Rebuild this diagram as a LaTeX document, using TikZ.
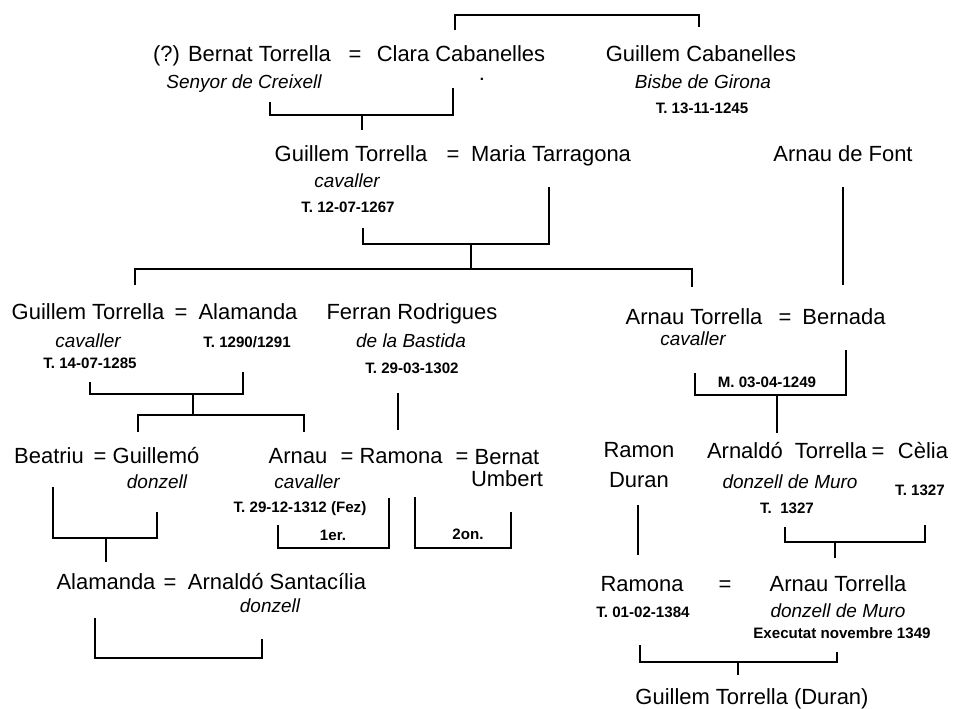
\documentclass[tikz,border=0pt]{standalone}
\usepackage{fontspec}
\setmainfont{Liberation Sans}
\tikzset{
  person/.style={font=\fontsize{12.5}{13}\selectfont, inner sep=0pt, anchor=mid, align=center},
  role/.style={font=\fontsize{10.8}{12}\selectfont\itshape, inner sep=0pt, anchor=mid},
  date/.style={font=\fontsize{8.6}{10}\selectfont\bfseries, inner sep=0pt, anchor=mid},
  link/.style={line width=0.9pt}
}
\begin{document}
\begin{tikzpicture}[x=0.02cm, y=-0.02cm]
    \useasboundingbox (0,0) rectangle (956,709);

    % Generation 1
    \node[person] (bt) at (242,57) {(?) Bernat Torrella};
    \node[person] (eq1) at (355,57) {=};
    \node[person] (cc) at (461,57) {Clara Cabanelles};
    \node[date] (dot) at (482,76) {.};
    \node[person] (gc) at (701,57) {Guillem Cabanelles};
    \node[role] (bt-t) at (244,84) {Senyor de Creixell};
    \node[role] (gc-t) at (703,84) {Bisbe de Girona};
    \node[date] (gc-d) at (702,109) {T. 13-11-1245};

    % Generation 2
    \node[person] (gt1) at (351,157) {Guillem Torrella};
    \node[person] (eq2) at (453,157) {=};
    \node[person] (mt) at (551,157) {Maria Tarragona};
    \node[person] (af) at (843,157) {Arnau de Font};
    \node[role] (gt1-t) at (347,183) {cavaller};
    \node[date] (gt1-d) at (348,208) {T. 12-07-1267};

    % Generation 3
    \node[person] (gt2) at (88,315) {Guillem Torrella};
    \node[person] (eq3) at (181,315) {=};
    \node[person] (al1) at (248,315) {Alamanda};
    \node[role] (gt2-t) at (88,343) {cavaller};
    \node[date] (al1-d) at (247,343) {T. 1290/1291};
    \node[date] (gt2-d) at (90,364) {T. 14-07-1285};
    \node[person] (fr) at (412,315) {Ferran Rodrigues};
    \node[role] (fr-t) at (411,343) {de la Bastida};
    \node[date] (fr-d) at (412,369) {T. 29-03-1302};
    \node[person] (at1) at (694,320) {Arnau Torrella};
    \node[person] (eq4) at (785,320) {=};
    \node[person] (bn) at (844,320) {Bernada};
    \node[role] (at1-t) at (693,341) {cavaller};
    \node[date] (bn-d) at (767,383) {M. 03-04-1249};

    % Generation 4
    \node[person] (be) at (49,459) {Beatriu};
    \node[person] (eq5) at (100,459) {=};
    \node[person] (gm) at (156,459) {Guillemó};
    \node[role] (gm-t) at (157,484) {donzell};
    \node[person] (ar) at (298,459) {Arnau};
    \node[person] (eq6) at (347,459) {=};
    \node[person] (ra1) at (401,459) {Ramona};
    \node[person] (eq7) at (462,459) {=};
    \node[person, anchor=center] (bu) at (507,468) {Bernat\\Umbert};
    \node[role] (ar-t) at (307,484) {cavaller};
    \node[date] (ar-d) at (300,508) {T. 29-12-1312 (Fez)};
    \node[date] (first) at (333,536) {1er.};
    \node[date] (second) at (468,535) {2on.};
    \node[person, anchor=center] (rd) at (639,465) {Ramon\\[4pt]Duran};
    \node[person] (ad) at (787,454) {Arnaldó\ \ Torrella};
    \node[person] (eq8) at (878,454) {=};
    \node[person] (ce) at (923,454) {Cèlia};
    \node[role] (ad-t) at (790,484) {donzell de Muro};
    \node[date] (ce-d) at (920,491) {T. 1327};
    \node[date] (ad-d) at (787,509) {T.\ \ 1327};

    % Generation 5
    \node[person] (al2) at (106,585) {Alamanda};
    \node[person] (eq9) at (170,585) {=};
    \node[person] (as) at (277,585) {Arnaldó Santacília};
    \node[role] (as-t) at (270,608) {donzell};
    \node[person] (ra2) at (642,587) {Ramona};
    \node[person] (eq10) at (725,587) {=};
    \node[person] (at2) at (838,587) {Arnau Torrella};
    \node[date] (ra2-d) at (643,613) {T. 01-02-1384};
    \node[role] (at2-t) at (838,613) {donzell de Muro};
    \node[date] (at2-d) at (842,634) {Executat novembre 1349};
    \node[person] (gtd) at (752,700) {Guillem Torrella (Duran)};

    % Clara and Guillem Cabanelles
    \coordinate (cg-l) at (455,30);
    \coordinate (cg-r) at (699,27);
    \draw[link] (cg-l) |- (cg-r |- 0,15) -- (cg-r);

    % Bernat = Clara
    \coordinate (bc-l) at (270,102);
    \coordinate (bc-r) at (453,88);
    \coordinate (bc-s) at (362,130);
    \draw[link] (bc-l) |- (bc-r |- 0,115) -- (bc-r);
    \draw[link] (bc-s) -- (bc-s |- 0,115);

    % Guillem = Maria
    \coordinate (gm-l) at (363,228);
    \coordinate (gm-r) at (549,187);
    \coordinate (gm-s) at (471,269);
    \draw[link] (gm-l) |- (gm-r |- 0,244) -- (gm-r);
    \draw[link] (gm-s) -- (gm-s |- 0,244);
    \coordinate (kids-l) at (135,285);
    \coordinate (kids-r) at (692,287);
    \draw[link] (kids-l) |- (kids-r |- 0,269) -- (kids-r);

    % Arnau de Font
    \coordinate (af-a) at (843,187);
    \coordinate (af-b) at (843,285);
    \draw[link] (af-a) -- (af-b);

    % Guillem = Alamanda
    \coordinate (ga-l) at (90,382);
    \coordinate (ga-r) at (243,372);
    \coordinate (ga-s) at (193,415);
    \draw[link] (ga-l) |- (ga-r |- 0,394) -- (ga-r);
    \draw[link] (ga-s) -- (ga-s |- 0,394);
    \coordinate (ga-kl) at (138,432);
    \coordinate (ga-kr) at (304,432);
    \draw[link] (ga-kl) |- (ga-kr |- 0,415) -- (ga-kr);

    % Ferran
    \coordinate (fr-a) at (398,393);
    \coordinate (fr-b) at (398,430);
    \draw[link] (fr-a) -- (fr-b);

    % Arnau = Bernada
    \coordinate (ab-l) at (695,373);
    \coordinate (ab-r) at (846,350);
    \coordinate (ab-s) at (777,433);
    \draw[link] (ab-l) |- (ab-r |- 0,395) -- (ab-r);
    \draw[link] (ab-s) -- (ab-s |- 0,395);

    % Beatriu = Guillemo
    \coordinate (bg-l) at (53,487);
    \coordinate (bg-r) at (157,512);
    \coordinate (bg-s) at (106,562);
    \draw[link] (bg-l) |- (bg-r |- 0,538) -- (bg-r);
    \draw[link] (bg-s) -- (bg-s |- 0,538);

    % Ramona, first and second marriage
    \coordinate (m1-l) at (278,525);
    \coordinate (m1-r) at (389,498);
    \draw[link] (m1-l) |- (m1-r |- 0,548) -- (m1-r);
    \coordinate (m2-l) at (415,497);
    \coordinate (m2-r) at (511,512);
    \draw[link] (m2-l) |- (m2-r |- 0,548) -- (m2-r);

    % Ramon Duran
    \coordinate (rd-a) at (638,505);
    \coordinate (rd-b) at (638,555);
    \draw[link] (rd-a) -- (rd-b);

    % Arnaldo = Celia
    \coordinate (ac-l) at (785,527);
    \coordinate (ac-r) at (925,525);
    \coordinate (ac-s) at (835,558);
    \draw[link] (ac-l) |- (ac-r |- 0,542) -- (ac-r);
    \draw[link] (ac-s) -- (ac-s |- 0,542);

    % Alamanda = Arnaldo Santacilia
    \coordinate (aa-l) at (95,618);
    \coordinate (aa-r) at (262,639);
    \draw[link] (aa-l) |- (aa-r |- 0,658) -- (aa-r);

    % Ramona = Arnau
    \coordinate (rt-l) at (640,645);
    \coordinate (rt-r) at (837,652);
    \coordinate (rt-s) at (738,675);
    \draw[link] (rt-l) |- (rt-r |- 0,662) -- (rt-r);
    \draw[link] (rt-s) -- (rt-s |- 0,662);
\end{tikzpicture}
\end{document}
